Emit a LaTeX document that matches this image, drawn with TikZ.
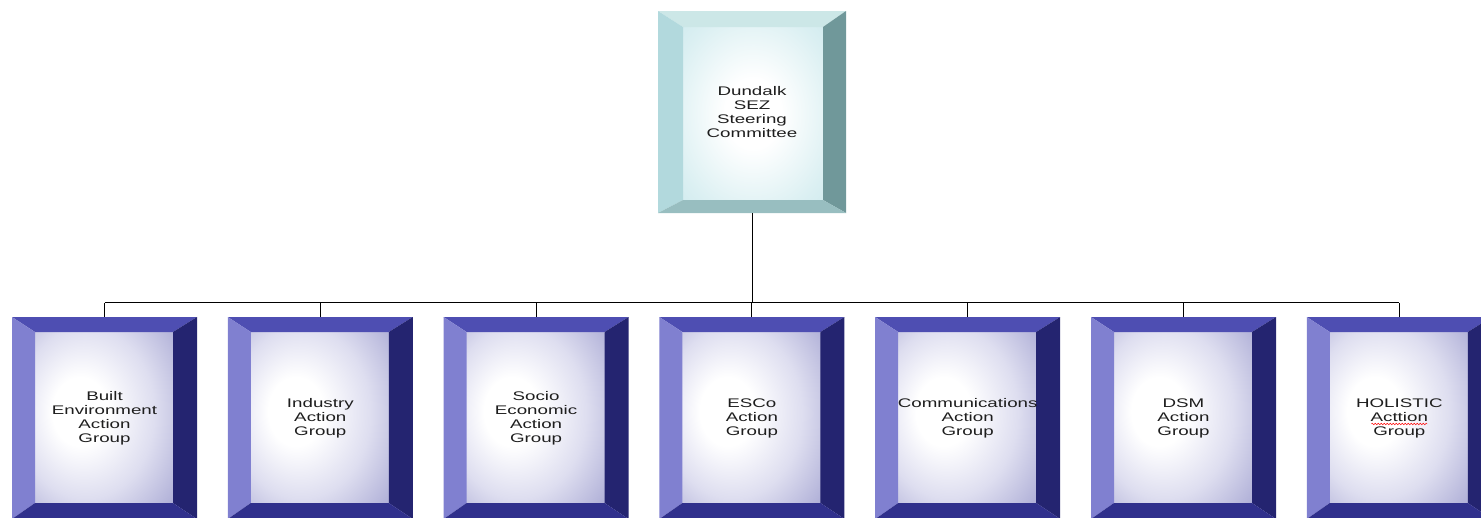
\documentclass[tikz,border=0pt]{standalone}
\usepackage{fontspec}
\newfontfamily\boxfont{Liberation Sans}[FakeStretch=1.5]
\usetikzlibrary{calc,decorations.pathmorphing}

\definecolor{txt}{RGB}{30,30,30}
% action group frames
\definecolor{gtop}{RGB}{78,78,178}
\definecolor{gleft}{RGB}{128,128,208}
\definecolor{gright}{RGB}{36,36,112}
\definecolor{gbot}{RGB}{48,48,140}
% steering committee frame
\definecolor{stop}{RGB}{204,231,231}
\definecolor{sleft}{RGB}{178,217,221}
\definecolor{sright}{RGB}{112,152,154}
\definecolor{sbot}{RGB}{152,190,192}

% inner glows
\pgfdeclareradialshading{gglow}{\pgfpoint{-10bp}{2bp}}{%
  rgb(0bp)=(1,1,1); rgb(10bp)=(1,1,1); rgb(25bp)=(0.87,0.87,0.94);
  rgb(40bp)=(0.68,0.68,0.84); rgb(55bp)=(0.50,0.50,0.72); rgb(75bp)=(0.40,0.40,0.64)}
\pgfdeclareradialshading{sglow}{\pgfpoint{0bp}{0bp}}{%
  rgb(0bp)=(1,1,1); rgb(10bp)=(1,1,1); rgb(30bp)=(0.86,0.94,0.95);
  rgb(50bp)=(0.75,0.89,0.91); rgb(75bp)=(0.70,0.86,0.88)}

\newcommand\bevelframe[5]{%
  \path (path picture bounding box.north west) coordinate (onw)
        (path picture bounding box.south east) coordinate (ose)
        ([xshift=#1pt,yshift=-#3pt]path picture bounding box.north west) coordinate (inw)
        ([xshift=-#2pt,yshift=#4pt]path picture bounding box.south east) coordinate (ise);
  \shade[shading=#5] (inw) rectangle (ise);
  \fill[bvtop] (onw) -- (onw -| ose) -- (inw -| ise) -- (inw) -- cycle;
  \fill[bvleft] (onw) -- (inw) -- (inw |- ise) -- (onw |- ose) -- cycle;
  \fill[bvright] (onw -| ose) -- (ose) -- (ise) -- (inw -| ise) -- cycle;
  \fill[bvbot] (onw |- ose) -- (inw |- ise) -- (ise) -- (ose) -- cycle;
}

\tikzset{
  frame/.style={inner sep=0pt, align=center, text=txt,
    font=\boxfont\fontsize{12.5}{14}\selectfont},
  grp/.style={frame, minimum width=185pt, minimum height=202pt,
    path picture={\colorlet{bvtop}{gtop}\colorlet{bvleft}{gleft}%
      \colorlet{bvright}{gright}\colorlet{bvbot}{gbot}%
      \bevelframe{23}{24}{15}{16}{gglow}}},
  steer/.style={frame, minimum width=188pt, minimum height=202pt,
    path picture={\colorlet{bvtop}{stop}\colorlet{bvleft}{sleft}%
      \colorlet{bvright}{sright}\colorlet{bvbot}{sbot}%
      \bevelframe{25}{23}{16}{13}{sglow}}},
  link/.style={black, line width=1pt}
}

\begin{document}
\begin{tikzpicture}[x=1pt,y=-1pt]
\useasboundingbox (0,0) rectangle (1481,517);

\node[steer] (sc) at (752,112) {Dundalk\\SEZ\\Steering\\Committee};

\node[grp] (g1) at (104.5,418) {Built\\Environment\\Action\\Group};
\node[grp] (g2) at (320.3,418) {Industry\\Action\\Group};
\node[grp] (g3) at (536.1,418) {Socio\\Economic\\Action\\Group};
\node[grp] (g4) at (751.9,418) {ESCo\\Action\\Group};
\node[grp] (g5) at (967.7,418) {Communications\\Action\\Group};
\node[grp] (g6) at (1183.5,418) {DSM\\Action\\Group};
\node[grp] (g7) at (1399.3,418) {HOLISTIC\\Acttion\\Group};

% bus line
\coordinate (bus) at ($(g1.north)+(0,-14)$);
\draw[link] (bus) -- (bus -| g7.north);
\draw[link] (sc.south) -- (sc.south |- bus);
\foreach \i in {1,...,7}
  \draw[link] (g\i.north) -- (g\i.north |- bus);

% spell check mark
\draw[red, decorate, decoration={snake, amplitude=0.8pt, segment length=3pt}]
  ($(g7.center)+(-28,6)$) -- ($(g7.center)+(28,6)$);
\end{tikzpicture}
\end{document}
